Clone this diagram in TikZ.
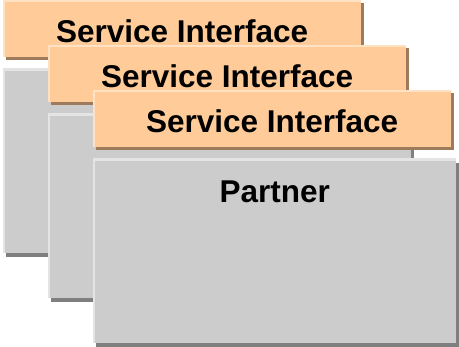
\documentclass[tikz,border=0pt]{standalone}
\usepackage{fontspec}
\setmainfont{Liberation Sans}
\usetikzlibrary{shadows}
\usetikzlibrary{positioning}
\definecolor{peach}{HTML}{FFCC99}
\definecolor{peachlight}{HTML}{FFE2C4}
\definecolor{peachshadow}{HTML}{9E7B5C}
\definecolor{boxgray}{HTML}{CCCCCC}
\definecolor{graylight}{HTML}{E4E4E4}
\definecolor{grayshadow}{HTML}{7F7F7F}
\tikzstyle{iface} = [rectangle, fill=peach, anchor=north west, inner sep=0pt,
minimum width=358pt, minimum height=57pt, text height=28.5pt, text depth=0pt,
font=\fontsize{31.5}{31.5}\bfseries\selectfont,
drop shadow={shadow xshift=3pt, shadow yshift=-3pt, fill=peachshadow, opacity=1},
path picture={\draw[peachlight, line width=4pt] (path picture bounding box.south west)
 |- (path picture bounding box.north east);}]
\tikzstyle{partner} = [rectangle, fill=boxgray, inner sep=0pt,
minimum width=363pt, minimum height=184pt,
drop shadow={shadow xshift=3pt, shadow yshift=-4pt, fill=grayshadow, opacity=1},
path picture={\draw[graylight, line width=4pt] (path picture bounding box.south west)
 |- (path picture bounding box.north east);}]
\tikzstyle{caption} = [inner sep=0pt, font=\fontsize{31.5}{31.5}\bfseries\selectfont]

\begin{document}
\begin{tikzpicture}[x=1pt,y=-1pt]
  \useasboundingbox (0,0) rectangle (459,347);

  \node[iface] (if1) at (3,0) {Service Interface} ; %
  \node[partner, below right=11pt and 0pt of if1.south west] (pb1) {} ;

  \node[iface] (if2) at (48,45) {Service Interface} ; %
  \node[partner, below right=11pt and 0pt of if2.south west] (pb2) {} ;

  \node[iface] (if3) at (93,90) {Service Interface} ; %
  \node[partner, below right=11pt and 0pt of if3.south west] (pb3) {} ;
  \node[caption, below=22pt of pb3.north] (pt3) {Partner}; %
\end{tikzpicture}
\end{document}
